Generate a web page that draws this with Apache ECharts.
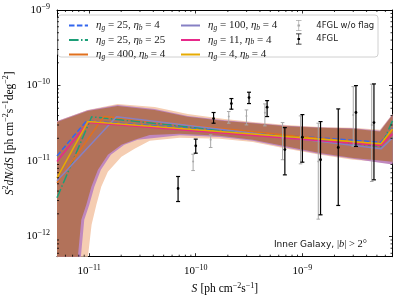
<!DOCTYPE html>
<html><head><meta charset="utf-8">
<script src="https://cdn.jsdelivr.net/npm/echarts@6/dist/echarts.min.js"></script>
<style>html,body{margin:0;padding:0;background:#fff}#c{width:399px;height:298px}</style>
</head><body><div id="c"></div>
<script>
// ---------- axis ranges & ticks ----------
const xRange = [5e-12, 7e-9];
const yRange = [5.41e-13, 1e-9];
const xMinorTicks = [6e-12,7e-12,8e-12,9e-12,2e-11,3e-11,4e-11,5e-11,6e-11,7e-11,8e-11,9e-11,
  2e-10,3e-10,4e-10,5e-10,6e-10,7e-10,8e-10,9e-10,2e-9,3e-9,4e-9,5e-9,6e-9];
const yMinorTicks = [6e-13,7e-13,8e-13,9e-13,2e-12,3e-12,4e-12,5e-12,6e-12,7e-12,8e-12,9e-12,
  2e-11,3e-11,4e-11,5e-11,6e-11,7e-11,8e-11,9e-11,2e-10,3e-10,4e-10,5e-10,6e-10,7e-10,8e-10,9e-10];

// ---------- model medians ----------
const modelNg = ['25','25','400','100','11','4'];
const modelNb = ['4','25','4','4','4','4'];
const modelColors = ['#3366ee','#1b9e77','#e0701e','#8680c4','#e7298a','#e6ab02'];
const lineBlue   = [[5e-12,1.17e-11],[9.47e-12,3.40e-11],[5.46e-9,1.77e-11],[7e-9,2.75e-11]];
const lineGreen  = [[5e-12,3.26e-12],[1.056e-11,3.85e-11],[5.46e-9,1.56e-11],[7e-9,3.40e-11]];
const lineOrange = [[5e-12,5.15e-12],[1.38e-11,3.90e-11],[5.46e-9,1.64e-11],[7e-9,2.59e-11]];
const linePurple = [[5e-12,5.47e-12],[1.81e-11,3.85e-11],[5.46e-9,1.45e-11],[7e-9,2.03e-11]];
const linePink   = [[5e-12,9.84e-12],[9.75e-12,3.23e-11],[5.46e-9,1.61e-11],[7e-9,2.29e-11]];
const lineYellow = [[5e-12,6.0e-12],[9.75e-12,3.33e-11],[5.46e-9,1.69e-11],[7e-9,2.67e-11]];

// ---------- uncertainty bands ----------
const peachUpper = [[5e-12,3.40e-11],[9.68e-12,4.75e-11],[1.85e-11,5.71e-11],[4.12e-11,5.21e-11],[8.41e-11,4.21e-11],
  [1.87e-10,3.61e-11],[3.43e-10,3.30e-11],[7.15e-10,3.01e-11],[1.46e-9,2.83e-11],[2.98e-9,2.75e-11],[5.34e-9,2.59e-11],[7e-9,4.21e-11]];
const peachLower = [[7e-9,9.46e-12],[5.34e-9,9.75e-12],[2.98e-9,1.04e-11],[1.46e-9,1.21e-11],[7.15e-10,1.45e-11],[3.43e-10,1.79e-11],
  [1.68e-10,1.97e-11],[7.08e-11,2.03e-11],[3.70e-11,1.85e-11],[2.67e-11,1.45e-11],[2.01e-11,1.14e-11],[1.50e-11,7.20e-12],
  [1.30e-11,4.56e-12],[1.17e-11,2.64e-12],[1.055e-11,1.43e-12],[9.75e-12,5.41e-13],[9.6e-12,3e-13],[5e-12,3e-13]];
const lilacUpper = [[5e-12,3.36e-11],[9.68e-12,4.70e-11],[1.85e-11,5.50e-11],[4.12e-11,4.90e-11],[8.41e-11,3.95e-11],
  [1.87e-10,3.48e-11],[3.43e-10,3.22e-11],[7.15e-10,2.93e-11],[1.46e-9,2.79e-11],[2.98e-9,2.71e-11],[5.34e-9,2.52e-11],[7e-9,4.15e-11]];
const lilacLower = [[7e-9,9.0e-12],[5.34e-9,9.46e-12],[2.98e-9,1.07e-11],[1.46e-9,1.24e-11],[7.15e-10,1.50e-11],[3.43e-10,1.85e-11],
  [1.68e-10,2.08e-11],[7.08e-11,2.20e-11],[2.85e-11,1.91e-11],[2.14e-11,1.64e-11],[1.60e-11,1.21e-11],[1.29e-11,7.65e-12],
  [1.12e-11,4.56e-12],[1.004e-11,2.64e-12],[9.01e-12,1.67e-12],[8.37e-12,5.41e-13],[8.3e-12,3e-13],[5e-12,3e-13]];
const coreUpper = [[5e-12,3.30e-11],[9.68e-12,4.61e-11],[1.85e-11,5.37e-11],[4.12e-11,4.75e-11],[8.41e-11,3.85e-11],
  [1.87e-10,3.40e-11],[3.43e-10,3.16e-11],[7.15e-10,2.88e-11],[1.46e-9,2.75e-11],[2.98e-9,2.67e-11],[5.34e-9,2.47e-11],[7e-9,4.08e-11]];
const coreLower = [[7e-9,9.75e-12],[5.34e-9,1.02e-11],[2.98e-9,1.10e-11],[1.46e-9,1.28e-11],[7.15e-10,1.56e-11],[3.43e-10,1.91e-11],
  [1.68e-10,2.16e-11],[7.08e-11,2.29e-11],[3.70e-11,2.22e-11],[2.67e-11,1.91e-11],[2.01e-11,1.64e-11],[1.50e-11,1.21e-11],
  [1.21e-11,7.65e-12],[1.05e-11,4.56e-12],[9.41e-12,2.64e-12],[8.45e-12,1.67e-12],[7.85e-12,5.41e-13],[7.7e-12,3e-13],[5e-12,3e-13]];

// ---------- 4FGL points ----------
const fglS    = [6.83e-11,1.0e-10,1.47e-10,2.16e-10,3.16e-10,4.67e-10,6.85e-10,1.0e-9,1.48e-9,2.17e-9,3.18e-9,4.69e-9];
const fglFlux = [4.33e-12,1.59e-11,3.65e-11,5.77e-11,6.92e-11,5.16e-11,1.42e-11,2.07e-11,1.04e-11,1.51e-11,4.39e-11,3.23e-11];
const fglLo   = [2.91e-12,1.27e-11,3.17e-11,4.86e-11,5.77e-11,3.88e-11,6.56e-12,9.66e-12,1.94e-12,2.58e-12,1.56e-11,5.64e-12];
const fglHi   = [6.24e-12,1.95e-11,4.39e-11,6.72e-11,8.15e-11,6.31e-11,2.77e-11,4.12e-11,3.33e-11,4.90e-11,9.98e-11,1.05e-10];
const woS    = [9.45e-11,1.38e-10,2.04e-10,2.99e-10,4.45e-10,6.52e-10,9.62e-10,1.41e-9,3.00e-9,4.47e-9];
const woFlux = [9.84e-12,1.91e-11,3.88e-11,3.96e-11,4.35e-11,2.03e-11,2.11e-11,9.84e-12,4.08e-11,3.01e-11];
const woLo   = [7.48e-12,1.51e-11,3.17e-11,3.01e-11,2.92e-11,1.04e-11,9.18e-12,1.70e-12,1.57e-11,5.36e-12];
const woHi   = [1.23e-11,2.22e-11,4.52e-11,4.75e-11,5.71e-11,3.23e-11,3.96e-11,3.17e-11,9.66e-11,1.04e-10];

// ---------- helpers ----------
const SERIF = 'Liberation Serif';
const SANS = 'DejaVu Sans';
const modelNames = modelNg.map((g,i)=>'ηg = '+g+', ηb = '+modelNb[i]);
const modelLines = [lineBlue,lineGreen,lineOrange,linePurple,linePink,lineYellow];
const modelDash = [[5.5,2.4],[9.6,2.4,1.5,2.4],'solid','solid','solid','solid'];

function powLabel(v){
  const e = Math.log10(v);
  if (Math.abs(e-Math.round(e))>1e-6) return '';
  return '{b|10}{e|−'+Math.abs(Math.round(e))+'}';
}
function bandSeries(upper, lower, color){
  return {type:'custom', coordinateSystem:'cartesian2d', clip:true, silent:true, z:1,
    data:[[upper[0][0], upper[0][1]]],
    renderItem:function(params, api){
      const pts = upper.concat(lower).map(p=>api.coord(p));
      return {type:'polygon', shape:{points:pts}, style:{fill:color}};
    }};
}
function errSeries(name, S, F, L, H, color, lw, cap, r){
  return {type:'custom', name:name, coordinateSystem:'cartesian2d', z:4, itemStyle:{color:color},
    data:S.map((s,i)=>[s,F[i],L[i],H[i]]),
    renderItem:function(params, api){
      const x = api.value(0);
      const c = api.coord([x, api.value(1)]);
      const lo = api.coord([x, api.value(2)]);
      const hi = api.coord([x, api.value(3)]);
      const st = {stroke:color, lineWidth:lw};
      return {type:'group', children:[
        {type:'line', shape:{x1:lo[0],y1:lo[1],x2:hi[0],y2:hi[1]}, style:st},
        {type:'line', shape:{x1:lo[0]-cap,y1:lo[1],x2:lo[0]+cap,y2:lo[1]}, style:st},
        {type:'line', shape:{x1:hi[0]-cap,y1:hi[1],x2:hi[0]+cap,y2:hi[1]}, style:st},
        {type:'circle', shape:{cx:c[0],cy:c[1],r:r}, style:{fill:color}}
      ]};
    }};
}
function minorX(){
  return {type:'custom', coordinateSystem:'cartesian2d', silent:true, z:6,
    data:xMinorTicks.map(v=>[v, yRange[0]]),
    renderItem:function(params, api){
      const b = api.coord([api.value(0), yRange[0]]);
      const t = api.coord([api.value(0), yRange[1]]);
      const st = {stroke:'#000', lineWidth:0.8};
      return {type:'group', children:[
        {type:'line', shape:{x1:b[0],y1:b[1],x2:b[0],y2:b[1]-2}, style:st},
        {type:'line', shape:{x1:t[0],y1:t[1],x2:t[0],y2:t[1]+2}, style:st}]};
    }};
}
function minorY(){
  return {type:'custom', coordinateSystem:'cartesian2d', silent:true, z:6,
    data:yMinorTicks.map(v=>[xRange[0], v]),
    renderItem:function(params, api){
      const l = api.coord([xRange[0], api.value(1)]);
      const r = api.coord([xRange[1], api.value(1)]);
      const st = {stroke:'#000', lineWidth:0.8};
      return {type:'group', children:[
        {type:'line', shape:{x1:l[0],y1:l[1],x2:l[0]+2,y2:l[1]}, style:st},
        {type:'line', shape:{x1:r[0],y1:r[1],x2:r[0]-2,y2:r[1]}, style:st}]};
    }};
}

const tickRich = {b:{fontFamily:SERIF,fontSize:11,color:'#000'}, e:{fontFamily:SERIF,fontSize:8,color:'#000',padding:[0,0,7,0]}};
function axisBase(pos, range, showLabel){
  return {type:'log', logBase:10, min:range[0], max:range[1], position:pos,
    axisLine:{show:true, lineStyle:{color:'#000', width:1}},
    axisTick:{show:true, inside:true, length:3.5, lineStyle:{color:'#000', width:0.8}},
    splitLine:{show:false}, minorTick:{show:false},
    axisLabel:{show:showLabel, formatter:powLabel, rich:tickRich, margin:7}};
}

const legendRich = {
  m:{fontFamily:SERIF, fontStyle:'italic', fontSize:11, color:'#222'},
  s:{fontFamily:SERIF, fontStyle:'italic', fontSize:7.5, color:'#222', padding:[5,0,0,0]},
  t:{fontFamily:SERIF, fontSize:11, color:'#222'},
  f:{fontFamily:SANS, fontSize:8.5, color:'#222'}
};
function legendFmt(name){
  const i = modelNames.indexOf(name);
  if (i<0) return '{f|'+name+'}';
  return '{m|η}{s|g}{t| = '+modelNg[i]+', }{m|η}{s|b}{t| = '+modelNb[i]+'}';
}
const errIcon = 'path://M0,0h6v0.8h-6z M2.6,0.8h0.8v10.4h-0.8z M0,11.2h6v0.8h-6z M1.6,5h2.8v2h-2.8z';
function legendBase(left, data, hideSymbol){
  const l = {orient:'vertical', left:left, top:15, itemWidth:19, itemHeight:11, itemGap:2.5,
    selectedMode:false, data:data, formatter:legendFmt,
    textStyle:{rich:legendRich, padding:[0,0,0,3]}};
  if (hideSymbol) l.itemStyle = {opacity:0};
  return l;
}

const series = [
  bandSeries(peachUpper, peachLower, 'rgb(245,205,178)'),
  bandSeries(lilacUpper, lilacLower, 'rgb(192,136,190)'),
  bandSeries(coreUpper, coreLower, 'rgb(178,114,90)')
];
modelLines.forEach((d,i)=>{
  series.push({type:'line', name:modelNames[i], data:d, showSymbol:false, symbol:'none', z:3,
    lineStyle:{color:modelColors[i], width:1.5, type:modelDash[i]}, itemStyle:{color:modelColors[i]}});
});
series.push(errSeries('4FGL w/o flag', woS, woFlux, woLo, woHi, '#a8a8a8', 1, 1.8, 1));
series.push(errSeries('4FGL', fglS, fglFlux, fglLo, fglHi, '#000', 1.2, 2, 1.4));
series.push(minorX(), minorY());

const chart = echarts.init(document.getElementById('c'), null, {renderer:'canvas'});
chart.setOption({
  animation:false, backgroundColor:'#fff',
  grid:{left:57, right:6.5, top:10, bottom:41.3, containLabel:false, outerBoundsMode:'none'},
  xAxis:[Object.assign(axisBase('bottom', xRange, true), {
      name:'{i|S} {t|[ph cm}{e|−2}{t|s}{e|−1}{t|]}', nameLocation:'middle', nameGap:22,
      nameTextStyle:{rich:{i:{fontFamily:SERIF,fontStyle:'italic',fontSize:11.5,color:'#000'},
        t:{fontFamily:SERIF,fontSize:11.5,color:'#000'}, e:{fontFamily:SERIF,fontSize:8,color:'#000',padding:[0,0,7,0]}}}}),
    axisBase('top', xRange, false)],
  yAxis:[Object.assign(axisBase('left', yRange, true), {
      name:'{i|S}{e|2}{i|dN/dS} {t|[ph cm}{e|−2}{t|s}{e|−1}{t|deg}{e|−2}{t|]}', nameLocation:'middle', nameGap:36, nameRotate:90,
      nameTextStyle:{rich:{i:{fontFamily:SERIF,fontStyle:'italic',fontSize:11.5,color:'#000'},
        t:{fontFamily:SERIF,fontSize:11.5,color:'#000'}, e:{fontFamily:SERIF,fontSize:8,color:'#000',padding:[0,0,7,0]}}}}),
    axisBase('right', yRange, false)],
  legend:[
    legendBase(63, modelNames.slice(0,3), true),
    legendBase(175, modelNames.slice(3,6), true),
    legendBase(291, [{name:'4FGL w/o flag', icon:errIcon}, {name:'4FGL', icon:errIcon}], false)
  ],
  graphic:[
    {type:'rect', z:3, shape:{x:58, y:15, width:320, height:42, r:3},
      style:{fill:'rgba(255,255,255,0.85)', stroke:'#d0d0d0', lineWidth:1}},
    {type:'text', z:5, right:32, top:239, style:{
      text:'{f|Inner Galaxy, }{m||}{i|b}{m|| > 2°}',
      rich:{f:{fontFamily:SANS,fontSize:9,fill:'#111'}, i:{fontFamily:SERIF,fontStyle:'italic',fontSize:10.5,fill:'#111'},
        m:{fontFamily:SERIF,fontSize:10.5,fill:'#111'}}}}
  ],
  series:series
});
</script></body></html>
